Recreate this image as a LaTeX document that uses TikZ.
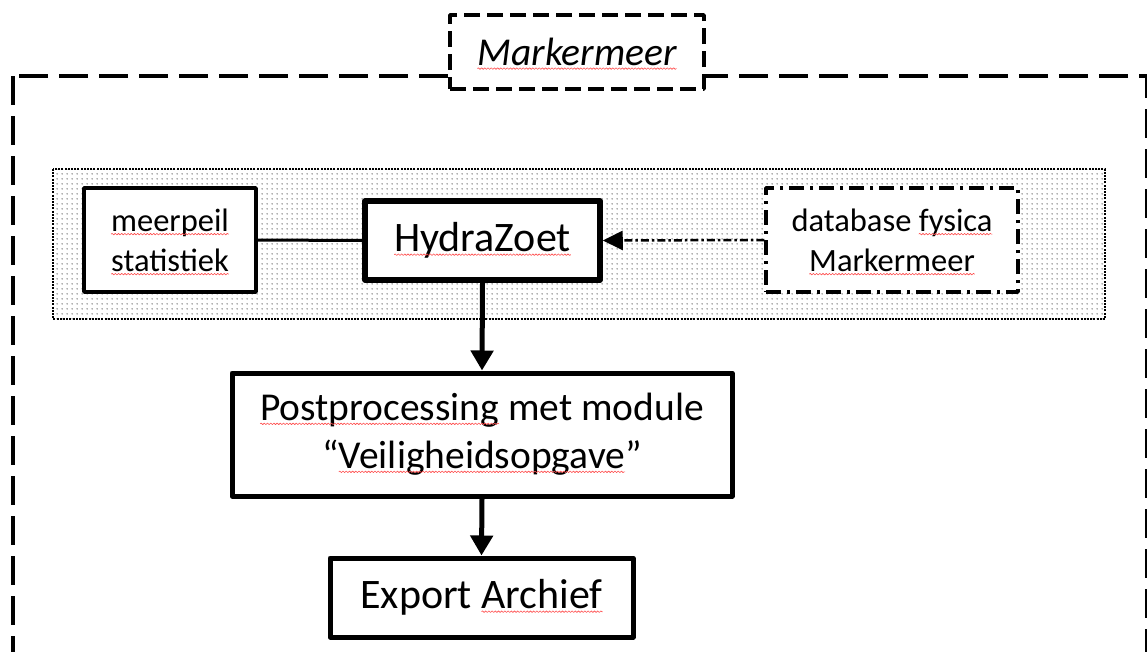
\documentclass[tikz,border=0pt]{standalone}
\usepackage{fontspec}
\setmainfont{Carlito}
\usetikzlibrary{arrows.meta,patterns.meta,decorations.pathmorphing}
\newsavebox\sqbox
\newlength\sqwd
\newcommand\spellerr[1]{\sbox\sqbox{#1}\setlength\sqwd{\wd\sqbox}\leavevmode\rlap{\usebox\sqbox}%
  \tikz[baseline=0pt]{\useasboundingbox (0pt,0pt) rectangle (\sqwd,0pt);
    \draw[solid, line width=0.6pt, red!70, line join=round, decorate,
      decoration={snake, amplitude=0.8pt, segment length=3.2pt}] (0pt,-3pt) -- (\sqwd,-3pt);}}
\tikzdeclarepattern{name=finedots, type=uncolored,
  bounding box={(0pt,0pt) and (5pt,5pt)}, tile size={(5pt,5pt)},
  code={\pgfpathcircle{\pgfpoint{2.5pt}{2.5pt}}{0.75pt}\pgfusepath{fill}}}
\tikzset{
  box/.style={draw, fill=white, line join=round, align=center, inner sep=0pt},
  bigfont/.style={font=\fontsize{42}{50}\selectfont},
  midfont/.style={font=\fontsize{39.5}{48}\selectfont},
  smallfont/.style={font=\fontsize{32.5}{40}\selectfont},
  outerdash/.style={draw, line width=3.5pt, dash pattern=on 29pt off 11pt},
  labeldash/.style={line width=3.5pt, dash pattern=on 16pt off 7pt},
  dashdotbox/.style={line width=3.5pt, dash pattern=on 15pt off 6pt on 3pt off 6pt},
  dashdotline/.style={line width=2.5pt, dash pattern=on 8pt off 3pt on 2.5pt off 3pt},
  dotborder/.style={line width=2.2pt, dash pattern=on 2pt off 1.2pt},
  flow/.style={line width=5pt, -{Triangle[length=20pt,width=22pt]}},
}
\begin{document}
\begin{tikzpicture}[x=1pt,y=-1pt]
\clip (0,0) rectangle (1147,651);
% outer dashed frame
\draw[outerdash] (13,76) rectangle (1146.5,720);
% title label
\node[box, labeldash, minimum width=254pt, minimum height=74pt,
  font=\fontsize{39.5}{48}\selectfont\itshape] (title) at (577,52) {\spellerr{Markermeer}};
% dotted region
\draw[dotborder, pattern={finedots}, pattern color=black!85] (53,169) rectangle (1105,319);
% nodes
\node[box, smallfont, line width=3.5pt, minimum width=172pt, minimum height=104pt]
  (meerpeil) at (170,240) {\spellerr{meerpeil}\\\spellerr{statistiek}};
\node[box, bigfont, line width=5.5pt, minimum width=235pt, minimum height=79pt]
  (hydra) at (482.5,240.5) {\spellerr{HydraZoet}};
\node[box, smallfont, dashdotbox, minimum width=252pt, minimum height=104pt]
  (db) at (892,240) {database \spellerr{fysica}\\\spellerr{Markermeer}};
\node[box, midfont, line width=5pt, minimum width=500pt, minimum height=123pt]
  (post) at (482,434.5) {\spellerr{Postprocessing} met module\\“\spellerr{Veiligheidsopgave}”};
\node[box, bigfont, line width=5pt, minimum width=303pt, minimum height=79pt]
  (export) at (481.5,597.5) {Export \spellerr{Archief}};
% connectors
\draw[line width=3pt] (meerpeil.east) -- (hydra.west);
\draw[dashdotline, -{Triangle[length=20pt,width=19pt]}] (db.west) -- (hydra.east);
\draw[flow] (hydra.south) -- (post.north);
\draw[flow] (post.south) -- (export.north);
\end{tikzpicture}
\end{document}
